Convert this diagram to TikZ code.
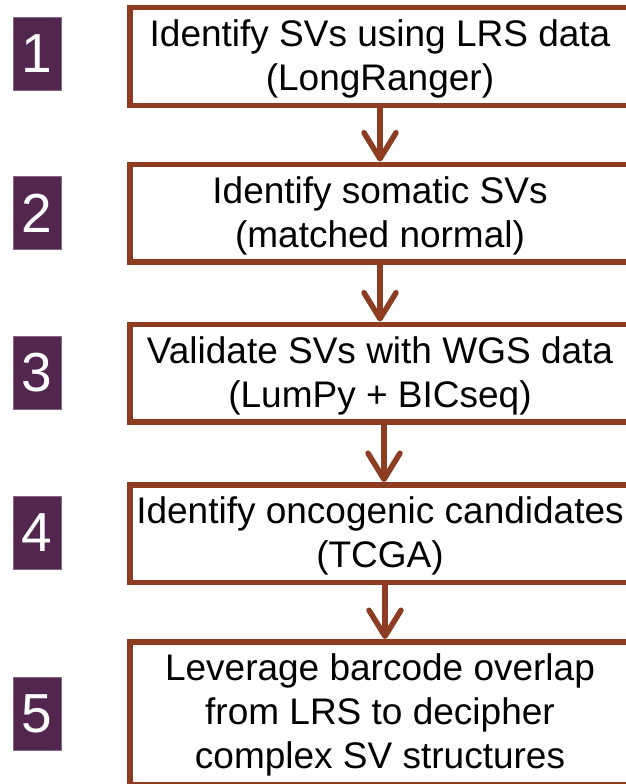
\documentclass[tikz,border=0pt]{standalone}
\usepackage{fontspec}
\setmainfont{Liberation Sans}
\usetikzlibrary{arrows.meta}
\definecolor{framebrown}{RGB}{142,61,34}
\definecolor{numpurple}{RGB}{83,38,80}
\tikzset{
  stepbox/.style={draw=framebrown, line width=5.5pt, fill=white,
    minimum width=500pt, minimum height=97.5pt, inner sep=0pt,
    text depth=2pt,
    align=center, font=\fontsize{37}{44}\selectfont},
  numbox/.style={fill=numpurple, draw=numpurple!70!white, line width=0.6pt,
    minimum width=48pt, minimum height=73pt, inner sep=0pt,
    text=white, font=\fontsize{55}{60}\selectfont},
  flow/.style={draw=framebrown, line width=5.5pt,
    -{Straight Barb[length=26pt, width=32pt, round]}}
}
\begin{document}
\begin{tikzpicture}[x=1pt, y=-1pt]
  \useasboundingbox (0,0) rectangle (626,784);
  \clip (0,0) rectangle (626,784);

  % process steps
  \node[stepbox] (b1) at (380,56.5) {Identify SVs using LRS data\\(LongRanger)};
  \node[stepbox] (b2) at (380,213) {Identify somatic SVs\\(matched normal)};
  \node[stepbox] (b3) at (380,373) {Validate SVs with WGS data\\(LumPy + BICseq)};
  \node[stepbox] (b4) at (380,533.5) {Identify oncogenic candidates\\(TCGA)};
  \node[stepbox, minimum height=142.5pt, text depth=4pt] (b5) at (380,713)
    {Leverage barcode overlap\\from LRS to decipher\\complex SV structures};

  % step numbers
  \node[numbox] (n1) at (37,53.5) {1};
  \node[numbox] (n2) at (37,213) {2};
  \node[numbox] (n3) at (37,373) {3};
  \node[numbox] (n4) at (37,533) {4};
  \node[numbox] (n5) at (37,713.5) {5};

  % connectors
  \draw[flow] (b1.south) -- (b2.north);
  \draw[flow] (b2.south) -- (b3.north);
  \draw[flow] ([xshift=4pt]b3.south) -- ([xshift=4pt]b4.north);
  \draw[flow] ([xshift=5pt]b4.south) -- ([xshift=5pt]b5.north);
\end{tikzpicture}
\end{document}
